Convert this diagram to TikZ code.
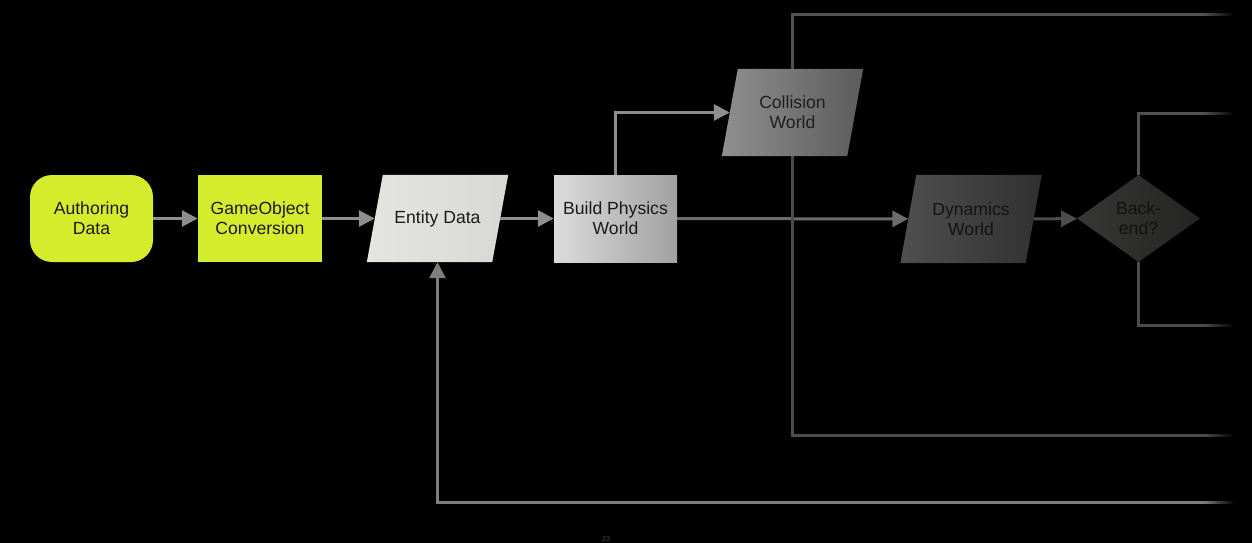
\documentclass[tikz,border=0pt]{standalone}
\usepackage{fontspec}
\setmainfont{Liberation Sans}
\usetikzlibrary{shapes.geometric,arrows.meta}
\definecolor{lime}{HTML}{D4EC2C}
\definecolor{txt}{HTML}{1A1A1A}
\definecolor{entL}{HTML}{E4E4E0}
\definecolor{entR}{HTML}{D8D8D4}
\definecolor{lnA}{HTML}{8E8E8C}
\definecolor{lnB}{HTML}{6C6C6A}
\definecolor{lnC}{HTML}{4C4C4A}
\definecolor{lnD}{HTML}{525250}
\definecolor{lnE}{HTML}{7E7E7C}
\definecolor{bkL}{HTML}{363634}
\definecolor{bkR}{HTML}{242422}
\pgfdeclarelayer{bgzero}
\pgfdeclarelayer{bgshape}
\pgfsetlayers{bgzero,bgshape,main}
\begin{document}
\begin{tikzpicture}[x=1pt,y=-1pt,
  box/.style={minimum width=123pt, minimum height=87pt, inner sep=0pt, align=center,
    font=\fontsize{17.6}{20}\selectfont, text=txt},
  para/.style={box, minimum width=125pt},
  arr/.style={line width=3pt, draw=lnA, -{Triangle[length=16pt,width=16pt]}},
  ln/.style={line width=3pt, draw=lnD}]
\begin{pgfonlayer}{bgzero}
\fill[black] (0,0) rectangle (1252,543);
\end{pgfonlayer}
\useasboundingbox (0,0) rectangle (1252,543);

\node[box, fill=lime, rounded corners=22pt] (auth) at (91.5,218.5) {Authoring\\Data};
\node[box, fill=lime, minimum width=124pt] (game) at (260,218.5) {GameObject\\Conversion};
\node[para] (entity) at (437.5,218.5) {Entity Data};
\node[box, left color=white!86!black, right color=white!63!black] (build) at (615.5,218.5) {Build Physics\\World};
\node[para, text=black!88] (coll) at (792.5,112.5) {Collision\\World};
\node[para, minimum height=88pt, text=black!92] (dyn) at (971,219) {Dynamics\\World};
\node[diamond, minimum width=123pt, minimum height=87pt, aspect=1.41, inner sep=0pt, align=center,
  font=\fontsize{17.6}{20}\selectfont, left color=bkL, right color=bkR, text=black!93] (bk) at (1138.5,218.5) {Back-\\end?};

\begin{pgfonlayer}{bgshape}
\shade[left color=entL, right color=entR]
  ([xshift=-8pt]entity.south west) -- ([xshift=8pt]entity.north west) --
  ([xshift=8pt]entity.north east) -- ([xshift=-8pt]entity.south east) -- cycle;
\shade[left color=white!56!black, right color=white!36!black]
  ([xshift=-8pt]coll.south west) -- ([xshift=8pt]coll.north west) --
  ([xshift=8pt]coll.north east) -- ([xshift=-8pt]coll.south east) -- cycle;
\shade[left color=white!31!black, right color=white!19!black]
  ([xshift=-8pt]dyn.south west) -- ([xshift=8pt]dyn.north west) --
  ([xshift=8pt]dyn.north east) -- ([xshift=-8pt]dyn.south east) -- cycle;
\end{pgfonlayer}

\coordinate (c1) at (1205,15);
\coordinate (c2) at (1205,435);
\coordinate (c3) at (1205,113);
\coordinate (c4) at (1205,325);
\coordinate (c5) at (1205,502);

\draw[arr] (auth) -- (game);
\draw[arr] (game) -- (entity);
\draw[arr] (entity) -- (build);
\draw[arr] (build.north) |- (coll);
\draw[arr, draw=lnB] (build) -- (dyn);
\draw[arr, draw=lnC] (dyn) -- (bk);
\draw[ln] (coll.north) |- (c1);
\draw[ln, draw=lnC] (coll.south) |- (c2);
\draw[ln] (bk.north) |- (c3);
\draw[ln, draw=lnC] (bk.south) |- (c4);
\draw[arr, draw=lnE] (c5) -| (entity.south);

\foreach \yy/\cc in {15/lnD, 435/lnC, 113/lnD, 325/lnC, 502/lnE} {
  \foreach \i [evaluate=\i as \p using int(94-10*\i)] in {0,...,9} {
    \draw[line width=3pt, draw=\cc!\p!black] (1205+3*\i,\yy) -- (1208.3+3*\i,\yy);
  }
}

\node[font=\fontsize{7}{8}\selectfont, text=white!28!black, inner sep=0pt] (pg) at (606,539) {23};
\end{tikzpicture}
\end{document}
